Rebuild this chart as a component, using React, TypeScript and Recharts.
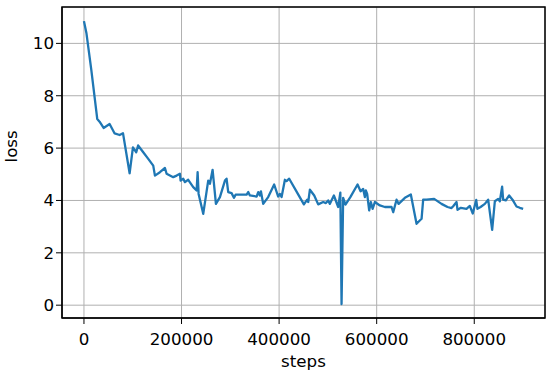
import React from "react";
import { LineChart, Line, XAxis, YAxis, CartesianGrid, ReferenceArea } from "recharts";

const steps = [
  0, 5000, 15000, 27300, 32000, 40300, 52600, 62900, 73100, 80000, 93600, 100400, 107200, 111000,
  121500, 131800, 142000, 145500, 155700, 166000, 169400, 183000, 190000, 196700, 198100, 203500,
  207000, 213700, 224000, 230900, 233000, 235000, 244500, 254700, 258200, 263700, 270500, 278700,
  289000, 292300, 295700, 302600, 307400, 310800, 333400, 336700, 340100, 353900, 357200, 360600,
  362700, 367400, 377600, 389900, 398100, 401600, 405100, 411900, 415300, 420700, 437000, 450800,
  457600, 459700, 463100, 472000, 480100, 490300, 495900, 500600, 504100, 512300, 521100, 525500,
  528000, 531300, 536000, 546000, 560800, 567000, 572300, 575800, 577800, 580500, 584600, 588100,
  591600, 596300, 606500, 616800, 630500, 633900, 640700, 645000, 657800, 670000, 681700, 692000,
  695300, 702200, 717800, 732900, 745200, 753400, 756800, 763700, 765700, 772500, 784100, 790900,
  797000, 804000, 806500, 813000, 821700, 828500, 836700, 842200, 849000, 852400, 857100, 859200,
  864700, 871500, 878400, 886600, 893400, 900200,
];

const loss = [
  10.85, 10.4, 9.0, 7.11, 7.01, 6.77, 6.92, 6.56, 6.5, 6.57, 5.04, 6.03, 5.84, 6.1,
  5.84, 5.59, 5.33, 4.95, 5.08, 5.24, 5.02, 4.89, 4.95, 5.02, 4.76, 4.83,
  4.7, 4.79, 4.51, 4.38, 5.08, 4.25, 3.49, 4.76, 4.64, 5.17, 3.87, 4.13,
  4.76, 4.83, 4.32, 4.28, 4.1, 4.22, 4.22, 4.32, 4.19, 4.15, 4.32, 4.19,
  4.35, 3.87, 4.13, 4.61, 4.15, 4.25, 4.13, 4.79, 4.74, 4.83, 4.3, 3.85,
  4.03, 3.94, 4.41, 4.19, 3.85, 3.94, 3.9, 4.0, 3.87, 4.19, 3.75, 4.3,
  0.04, 4.1, 3.84, 4.13, 4.61, 4.35, 4.44, 4.13, 4.38, 4.25, 3.62, 3.94,
  3.68, 3.94, 3.81, 3.75, 3.75, 3.55, 4.03, 3.87, 4.1, 4.23, 3.11, 3.3,
  4.03, 4.03, 4.06, 3.87, 3.75, 3.71, 3.78, 3.94, 3.64, 3.72, 3.68, 3.79,
  3.5, 4.02, 3.68, 3.75, 3.87, 4.03, 2.88, 3.97, 4.06, 3.97, 4.53, 4.03,
  4.0, 4.19, 4.03, 3.77, 3.72, 3.68,
];

const xTicks = [0, 200000, 400000, 600000, 800000];
const yTicks = [0, 2, 4, 6, 8, 10];
const xDomain = [-45000, 945000];
const yDomain = [-0.49, 11.39];

const data = steps.map((s, i) => ({ steps: s, loss: loss[i] }));

const font = { fontFamily: "DejaVu Sans", fontSize: 16.7, fill: "#000" };

export default function App() {
  return (
    <div style={{ width: 550, height: 375, background: "#fff" }}>
      <style>{`body{margin:0}`}</style>
      <LineChart width={550} height={375} data={data} margin={{ top: 7, right: 5, bottom: 0, left: 0 }}>
        <CartesianGrid stroke="#b0b0b0" strokeWidth={1} />
        <XAxis
          dataKey="steps"
          type="number"
          domain={xDomain}
          ticks={xTicks}
          allowDataOverflow
          height={57}
          stroke="#000"
          tickSize={6}
          tickMargin={9}
          tick={font}
          label={{ value: "steps", position: "insideBottom", offset: 8, ...font }}
        />
        <YAxis
          type="number"
          domain={yDomain}
          ticks={yTicks}
          allowDataOverflow
          width={62}
          stroke="#000"
          tickSize={6}
          tick={font}
          label={{ value: "loss", angle: -90, position: "insideLeft", offset: 11, ...font }}
        />
        {/* box around the plot, like matplotlib spines */}
        <ReferenceArea
          x1={xDomain[0]}
          x2={xDomain[1]}
          y1={yDomain[0]}
          y2={yDomain[1]}
          fill="none"
          stroke="#000"
          strokeWidth={1.5}
          ifOverflow="visible"
        />
        <Line
          dataKey="loss"
          stroke="#1f77b4"
          strokeWidth={2.3}
          dot={false}
          isAnimationActive={false}
          strokeLinejoin="round"
        />
      </LineChart>
    </div>
  );
}
